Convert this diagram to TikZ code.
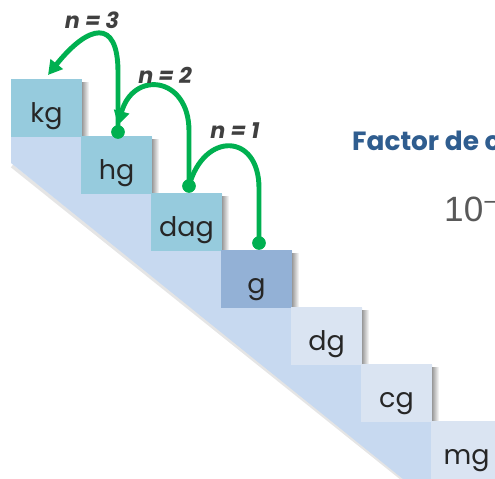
\documentclass[tikz,border=0pt]{standalone}
\usepackage{fontspec}
\newfontfamily\gothic{Poppins}
\newfontfamily\arialish{Liberation Sans}
\usetikzlibrary{arrows.meta}
\definecolor{stepteal}{HTML}{96CBDD}
\definecolor{stepbase}{HTML}{93B1D6}
\definecolor{steplight}{HTML}{DAE4F2}
\definecolor{stairblue}{HTML}{C7D9F0}
\definecolor{jumpgreen}{HTML}{00B050}
\definecolor{titleblue}{HTML}{2F5D8F}

\begin{document}
\begin{tikzpicture}[x=0.03cm, y=0.03cm,
  box/.style={minimum width=2.13cm, minimum height=1.74cm, inner sep=0pt,
    text height=25pt, text depth=0pt, text=black!85,
    font=\gothic\fontsize{23}{23}\selectfont},
  dot/.style={circle, fill=jumpgreen, minimum size=0.4cm, inner sep=0pt},
  jump/.style={jumpgreen, line width=4.2pt},
  nlabel/.style={text=black!75, font=\gothic\bfseries\itshape\fontsize{19}{19}\selectfont}]
  \useasboundingbox (0,0) rectangle (495,479);
  \clip (0,0) rectangle (495,479);

  % escalera y sombras
  \draw[black!10, line width=3pt] (12,313) -- (405,-2);
  \fill[stairblue] (11,342) -- (152,342) -- (152,285) -- (222,285) -- (222,228)
    -- (292,228) -- (292,171) -- (362,171) -- (362,114) -- (432,114) -- (432,57)
    -- (500,57) -- (500,0) -- (403,0) -- (11,316) -- cycle;
  \foreach \i in {0,...,5}
    \shade[left color=black!40, right color=white]
      ({82+70*\i},{342-57*\i}) rectangle ({89+70*\i},{396-57*\i});

  \foreach \name/\col [count=\i from 0] in {kg/stepteal, hg/stepteal, dag/stepteal,
      g/stepbase, dg/steplight, cg/steplight, mg/steplight}
    \node[box, fill=\col] (\name) at ({46.5+70*\i},{371-57*\i}) {\name};

  \node[dot] (gdot) at (259,236) {};
  \node[dot] (dagdot) at (189,293) {};
  \node[dot] (hgdot) at (118,347) {};
  \coordinate (kgend) at (48,404);

  \draw[jump] (gdot.center) -- ++(0,55) .. controls +(0,55) and +(15,55) .. (dagdot.center);
  \draw[jump, -{Triangle[length=12pt, width=13pt]}] (dagdot.center) -- ++(0,55)
    .. controls +(0,55) and +(15,55) .. (hgdot.north);
  \draw[jump, -{Triangle[length=12pt, width=13pt]}] (hgdot.center) -- ++(0,60)
    .. controls +(0,55) and +(40,50) .. (kgend);
  \node[dot] at (gdot) {};
  \node[dot] at (dagdot) {};
  \node[dot] at (hgdot) {};

  \node[nlabel] (n1) at (235,348) {n = 1};
  \node[nlabel] (n2) at (165,404) {n = 2};
  \node[nlabel] (n3) at (92,459) {n = 3};

  \node[anchor=west, inner sep=0pt, text=titleblue,
    font=\gothic\bfseries\fontsize{22.5}{22.5}\selectfont] (factor) at (352,338) {Factor de c};
  \node[anchor=west, inner sep=0pt, text=black!65,
    font=\arialish\fontsize{30}{30}\selectfont] (ten) at (444,270) {10\textsuperscript{−}};
\end{tikzpicture}
\end{document}
